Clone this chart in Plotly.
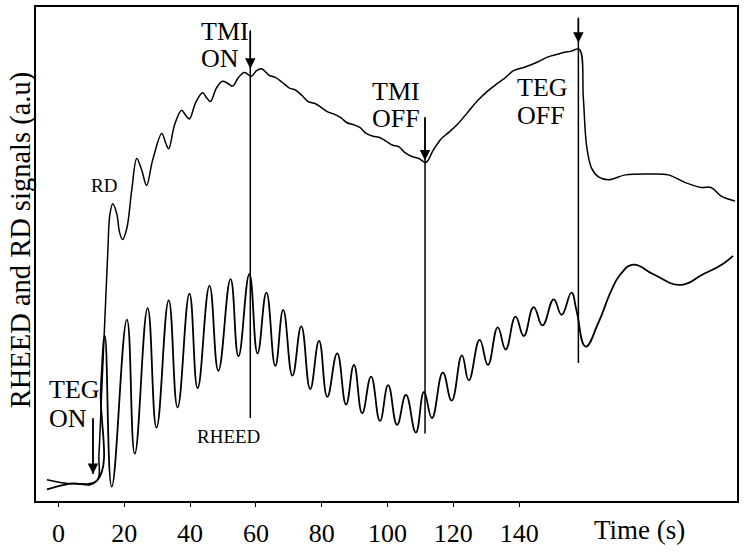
import plotly.graph_objects as go

# ---- data (time in s, signals in arbitrary units) ----
rd_time = [-3.5, 3.5, 11.7, 12.3, 13.2, 14.1, 15.0, 15.6, 16.5, 17.7, 18.6, 19.5, 20.8, 22.3,
           23.8, 25.3, 26.8, 28.6, 31.4, 32.6, 33.5, 35.3, 37.4, 38.6, 39.8, 41.7, 43.8, 45.0,
           46.2, 48.0, 49.8, 51.4, 52.9, 54.7, 56.5, 57.7, 58.6, 60.2, 61.7,
           64.1, 65.9, 68.0, 70.2, 72.0, 74.1, 75.9, 78.0, 79.8, 82.0, 83.8, 85.9, 87.7, 89.8,
           91.7, 93.5, 95.6, 97.4, 99.5, 101.4, 103.5, 105.3, 107.4, 109.5, 111.7,
           113.8, 116.2, 118.6, 121.4, 124.4, 127.4, 130.5, 133.5, 135.9, 138.3, 142.0, 145.6,
           148.6, 151.7, 153.8, 155.6, 158.3,
           159.5, 160.5, 162.0, 164.1, 167.1, 172.3, 180.2, 185.3, 190.5, 195.3, 198.3, 201.4, 205.6]
rd_signal = [2.2, 1.8, 2.1, 4.8, 11.8, 18.8, 25.8, 29.6, 30.8, 29.8, 27.8, 27.1, 28.3, 32.3,
             35.5, 34.3, 32.7, 35.3, 38.1, 37.1, 36.5, 39.0, 40.5, 40.0, 39.6, 41.3, 42.3, 41.8,
             41.4, 42.8, 43.5, 43.3, 43.0, 43.9, 44.4, 44.2, 44.0, 44.6, 44.8,
             44.1, 43.9, 43.4, 42.8, 42.6, 42.0, 41.4, 41.2, 40.8, 40.3, 40.1, 39.7, 39.2, 39.0,
             38.7, 38.1, 37.8, 37.7, 37.3, 36.9, 36.7, 36.1, 35.7, 35.5, 35.1,
             36.3, 37.5, 38.2, 39.1, 40.3, 41.5, 42.5, 43.3, 43.9, 44.6, 45.0, 45.5,
             46.0, 46.3, 46.5, 46.6, 46.8,
             41.8, 36.8, 34.5, 33.6, 33.3, 33.8, 33.9, 33.8, 33.0, 32.5, 32.5, 31.6, 31.1]

rheed_time = [-3.5, 3.5, 11.7, 12.9, 14.1, 16.2, 20.8, 23.2, 27.1, 29.8, 33.5, 36.2, 39.8, 42.3,
              45.9, 48.6, 52.3, 54.7, 58.0, 60.5, 63.2, 65.9, 68.3, 71.1, 73.8, 76.5, 79.2,
              81.7, 84.7, 87.4, 89.8, 92.3, 95.0, 97.7, 100.2, 102.9, 105.6, 108.6, 111.1,
              113.5, 116.8, 119.5, 122.6, 124.7, 128.0, 130.5, 133.5, 135.9, 138.9, 141.4,
              144.4, 147.1, 150.5, 152.9, 155.9, 157.4, 160.2, 164.1, 168.0, 170.8, 174.7,
              180.8, 188.9, 195.9, 202.0, 205.0]
rheed_signal = [1.2, 1.8, 2.1, 11.8, 17.1, 1.5, 18.8, 4.9, 20.0, 7.6, 20.8, 9.7, 21.5, 11.7,
                22.3, 13.5, 23.0, 15.0, 23.5, 15.3, 21.6, 14.0, 19.8, 13.0, 18.1, 11.6, 16.6,
                10.8, 15.3, 10.0, 14.1, 9.1, 12.9, 8.3, 12.0, 7.9, 11.0, 7.1, 11.3,
                8.6, 13.3, 10.4, 15.1, 12.5, 16.7, 14.1, 18.0, 15.7, 19.1, 17.1,
                20.1, 18.2, 20.9, 19.3, 21.6, 19.8, 16.0, 18.5, 21.8, 23.5, 24.5,
                23.5, 22.4, 23.5, 24.6, 25.4]

# event markers: time, line top, arrow tip, line bottom
event_time = [10.5, 58.3, 111.4, 158.0]
event_top = [8.6, 48.8, 39.8, 50.1]
event_tip = [2.8, 44.8, 35.3, 47.5]
event_bottom = [2.8, 8.6, 7.0, 14.3]

# labels: text, time, signal, anchor, size
label_text = ["TEG", "ON", "TMI", "ON", "TMI", "OFF", "TEG", "OFF", "RD", "RHEED"]
label_time = [-3.6, -3.6, 42.7, 42.7, 94.8, 94.8, 138.7, 138.7, 13.8, 51.7]
label_sig = [11.6, 8.6, 48.7, 45.9, 42.4, 39.6, 42.9, 40.0, 32.7, 6.65]
label_anchor = ["left"] * 8 + ["center", "center"]
label_size = [26] * 8 + [19, 19]

tick_vals = [0, 20, 40, 60, 80, 100, 120, 140]
x_range = [-6.82, 206.2]
y_range = [0, 51.2]

FONT = "Liberation Serif"

fig = go.Figure()
fig.add_trace(go.Scatter(x=rd_time, y=rd_signal, mode="lines",
                         line=dict(color="black", width=1.5, shape="spline", smoothing=1.0),
                         showlegend=False, hoverinfo="skip"))
fig.add_trace(go.Scatter(x=rheed_time, y=rheed_signal, mode="lines",
                         line=dict(color="black", width=1.8, shape="spline", smoothing=1.3),
                         showlegend=False, hoverinfo="skip"))

annotations = []
shapes = []
for t, top, tip, bot in zip(event_time, event_top, event_tip, event_bottom):
    shapes.append(dict(type="line", xref="x", yref="y", x0=t, x1=t, y0=top, y1=bot,
                       line=dict(color="black", width=1.5)))
    annotations.append(dict(x=t, y=tip, ax=t, ay=top, xref="x", yref="y", axref="x", ayref="y",
                            text="", showarrow=True, arrowhead=2, arrowsize=1.4,
                            arrowwidth=1.5, arrowcolor="black"))

for txt, t, s, anc, sz in zip(label_text, label_time, label_sig, label_anchor, label_size):
    annotations.append(dict(x=t, y=s, xref="x", yref="y", text=txt, showarrow=False,
                            xanchor=anc, yanchor="middle",
                            font=dict(family=FONT, size=sz, color="black")))

annotations.append(dict(x=-0.0213, y=0.528, xref="paper", yref="paper",
                        text="RHEED and RD signals (a.u)", textangle=-90, showarrow=False,
                        xanchor="center", yanchor="middle",
                        font=dict(family=FONT, size=28.5, color="black")))
annotations.append(dict(x=0.8606, y=-0.058, xref="paper", yref="paper",
                        text="Time (s)", showarrow=False, xanchor="center", yanchor="middle",
                        font=dict(family=FONT, size=27, color="black")))

fig.update_layout(
    width=744, height=553, autosize=False,
    margin=dict(l=36, r=5, t=6, b=35),
    paper_bgcolor="white", plot_bgcolor="white",
    shapes=shapes, annotations=annotations,
    xaxis=dict(range=x_range, tickvals=tick_vals, ticks="outside", ticklen=4,
               ticklabelstandoff=4,
               tickcolor="black", showline=True, linecolor="black", linewidth=1.5,
               mirror=True, showgrid=False, zeroline=False,
               tickfont=dict(family=FONT, size=26, color="black")),
    yaxis=dict(range=y_range, showticklabels=False, ticks="", showline=True,
               linecolor="black", linewidth=1.5, mirror=True, showgrid=False, zeroline=False),
)

fig.write_html("out.html")
